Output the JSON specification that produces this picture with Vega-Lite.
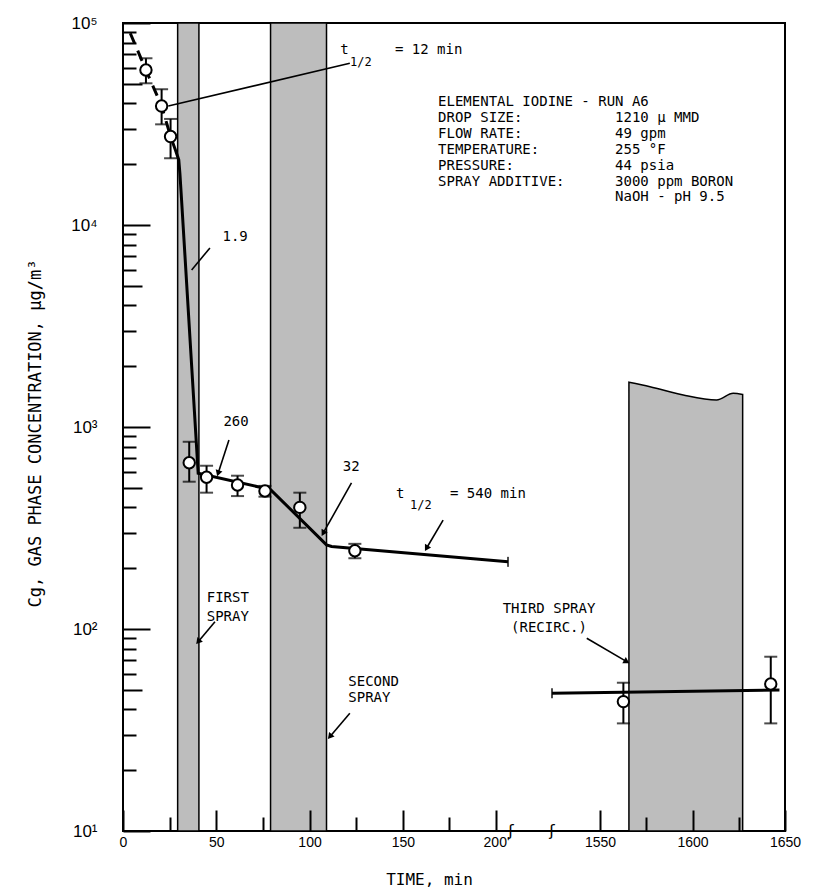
{
  "$schema": "https://vega.github.io/schema/vega-lite/v6.json",
  "width": 662,
  "height": 808,
  "autosize": {"type": "none"},
  "padding": {"left": 123, "top": 23, "right": 36, "bottom": 64},
  "background": "white",
  "config": {
    "view": {"stroke": "black", "strokeWidth": 2},
    "font": "DejaVu Sans Mono"
  },
  "datasets": {
    "obs": [
      {"t": 12.3, "c": 58500, "lo": 50300, "hi": 66900},
      {"t": 20.7, "c": 38800, "lo": 31500, "hi": 47000},
      {"t": 25.5, "c": 27400, "lo": 21400, "hi": 33500},
      {"t": 35.5, "c": 665, "lo": 536, "hi": 845},
      {"t": 44.8, "c": 564, "lo": 473, "hi": 643},
      {"t": 61.4, "c": 516, "lo": 455, "hi": 574},
      {"t": 76.1, "c": 482, "lo": 452, "hi": 511},
      {"t": 94.8, "c": 400, "lo": 317, "hi": 473},
      {"t": 124.3, "c": 244, "lo": 224, "hi": 264},
      {"t": 1562.6, "c": 43.7, "lo": 34.1, "hi": 54.2},
      {"t": 1642.3, "c": 53.4, "lo": 34.1, "hi": 72.9}
    ],
    "curves": [
      {"s": "dash", "t": 3.9, "c": 89000},
      {"s": "dash", "t": 12.3, "c": 58500},
      {"s": "dash", "t": 20.7, "c": 38800},
      {"s": "dash", "t": 25.5, "c": 27400},
      {"s": "main", "t": 25.5, "c": 27400},
      {"s": "main", "t": 28.1, "c": 23500},
      {"s": "main", "t": 29.9, "c": 21000},
      {"s": "main", "t": 30.5, "c": 18000},
      {"s": "main", "t": 31.4, "c": 13300},
      {"s": "main", "t": 40.3, "c": 590},
      {"s": "main", "t": 79.1, "c": 490},
      {"s": "main", "t": 109.1, "c": 261},
      {"s": "main", "t": 111.8, "c": 256},
      {"s": "main", "t": 206.4, "c": 215},
      {"s": "third", "t": 1524, "c": 48.1},
      {"s": "third", "t": 1647, "c": 49.9}
    ],
    "ends": [
      {"t": 206.4, "c": 215},
      {"t": 1524, "c": 48.1}
    ],
    "bands": [
      {"t": 29.3, "t2": 40.7, "c": 100000, "c2": 10},
      {"t": 79.1, "t2": 109.1, "c": 100000, "c2": 10}
    ],
    "band3": [
      {"t": 1565.6, "c": 1665},
      {"t": 1577, "c": 1584},
      {"t": 1595, "c": 1439},
      {"t": 1613, "c": 1361},
      {"t": 1622, "c": 1469},
      {"t": 1627.1, "c": 1450}
    ],
    "leaders": [
      {"id": "12", "t": 24.3, "c": 38800, "t2": 121.6, "c2": 63200},
      {"id": "1.9", "t": 46.6, "c": 7700, "t2": 36.8, "c2": 5990},
      {"id": "260", "t": 56.8, "c": 862, "t2": 51.0, "c2": 590},
      {"id": "32", "t": 122.5, "c": 529, "t2": 107.3, "c2": 298},
      {"id": "540", "t": 171.6, "c": 346, "t2": 162.7, "c2": 251},
      {"id": "first", "t": 49.3, "c": 108.7, "t2": 40.3, "c2": 86.5},
      {"id": "second", "t": 121.6, "c": 38.3, "t2": 110.9, "c2": 29.3},
      {"id": "third", "t": 1542.8, "c": 90, "t2": 1564.4, "c2": 68.9}
    ],
    "tips": [
      {"id": "260", "t": 51.0, "c": 590},
      {"id": "32", "t": 107.3, "c": 298},
      {"id": "540", "t": 162.7, "c": 251},
      {"id": "first", "t": 40.3, "c": 86.5},
      {"id": "second", "t": 110.9, "c": 29.3},
      {"id": "third", "t": 1564.4, "c": 68.9}
    ],
    "textLeft": [
      {"label": "ELEMENTAL IODINE - RUN A6", "t": 168.9, "c": 40780},
      {"label": "DROP SIZE:", "t": 168.9, "c": 33980},
      {"label": "FLOW RATE:", "t": 168.9, "c": 28220},
      {"label": "TEMPERATURE:", "t": 168.9, "c": 23510},
      {"label": "PRESSURE:", "t": 168.9, "c": 19590},
      {"label": "SPRAY ADDITIVE:", "t": 168.9, "c": 16380},
      {"label": "1210 μ MMD", "t": 1558.1, "c": 33980},
      {"label": "49 gpm", "t": 1558.1, "c": 28220},
      {"label": "255 °F", "t": 1558.1, "c": 23510},
      {"label": "44 psia", "t": 1558.1, "c": 19590},
      {"label": "3000 ppm BORON", "t": 1558.1, "c": 16380},
      {"label": "NaOH - pH 9.5", "t": 1558.1, "c": 13710},
      {"label": "FIRST", "t": 44.9, "c": 142.9},
      {"label": "SPRAY", "t": 44.9, "c": 115},
      {"label": "SECOND", "t": 120.8, "c": 54.8},
      {"label": "SPRAY", "t": 120.8, "c": 45.4},
      {"label": "t", "t": 116.4, "c": 73500},
      {"label": "= 12 min", "t": 145.8, "c": 73500},
      {"label": "t", "t": 146.4, "c": 466},
      {"label": "= 540 min", "t": 175.3, "c": 466}
    ],
    "textSub": [
      {"label": "1/2", "t": 121.7, "c": 64100},
      {"label": "1/2", "t": 153.9, "c": 411}
    ],
    "textCenter": [
      {"label": "1.9", "t": 60.1, "c": 8730},
      {"label": "260", "t": 60.6, "c": 1062},
      {"label": "32", "t": 122.3, "c": 636},
      {"label": "THIRD SPRAY", "t": 1427.7, "c": 125.3},
      {"label": "(RECIRC.)", "t": 1427.7, "c": 100.8}
    ],
    "breaks": [
      {"t": 208, "c": 10},
      {"t": 1524, "c": 10}
    ]
  },
  "encoding": {
    "x": {
      "field": "t",
      "type": "quantitative",
      "scale": {"domain": [0, 208, 1524, 1650], "range": [0, 388, 429, 662], "nice": false, "zero": false},
      "axis": {
        "values": [0, 25, 50, 75, 100, 125, 150, 175, 200, 1550, 1575, 1600, 1625, 1650],
        "tickSize": {"condition": {"test": "datum.value % 50 == 0", "value": -21}, "value": -14},
        "tickWidth": 2,
        "tickColor": "black",
        "domain": false,
        "grid": false,
        "labelExpr": "datum.value % 50 != 0 ? '' : datum.value == 200 ? \"200'\" : '' + datum.value",
        "labelFont": "Liberation Sans",
        "labelFontSize": 14,
        "labelColor": "black",
        "labelPadding": 25,
        "labelOverlap": false,
        "labelFlush": false,
        "title": "TIME, min",
        "titleFont": "DejaVu Sans Mono",
        "titleFontSize": 16,
        "titleFontWeight": "normal",
        "titleColor": "black",
        "titleX": 306,
        "titleY": 48,
        "titleAlign": "center",
        "titleBaseline": "middle",
        "zindex": 1
      }
    },
    "y": {
      "field": "c",
      "type": "quantitative",
      "scale": {"type": "log", "domain": [10, 100000], "nice": false},
      "axis": {
        "values": [10, 20, 30, 40, 50, 60, 70, 80, 90, 100, 200, 300, 400, 500, 600, 700, 800, 900, 1000, 2000, 3000, 4000, 5000, 6000, 7000, 8000, 9000, 10000, 20000, 30000, 40000, 50000, 60000, 70000, 80000, 90000, 100000],
        "tickSize": {"condition": [
          {"test": "indexof([10,100,1000,10000,100000], datum.value) >= 0", "value": -27},
          {"test": "indexof([50,500,5000,50000], datum.value) >= 0", "value": -19}
        ], "value": -13},
        "tickWidth": 2,
        "tickColor": "black",
        "domain": false,
        "grid": false,
        "labelExpr": "datum.value == 10 ? '10¹' : datum.value == 100 ? '10²' : datum.value == 1000 ? '10³' : datum.value == 10000 ? '10⁴' : datum.value == 100000 ? '10⁵' : ''",
        "labelFont": "Liberation Sans",
        "labelFontSize": 17,
        "labelColor": "black",
        "labelPadding": 53,
        "labelOverlap": false,
        "labelFlush": false,
        "title": "Cg, GAS PHASE CONCENTRATION, μg/m³",
        "titleFont": "DejaVu Sans Mono",
        "titleFontSize": 17,
        "titleFontWeight": "normal",
        "titleColor": "black",
        "titleX": -88,
        "titleY": 410,
        "titleAngle": -90,
        "titleAlign": "center",
        "titleBaseline": "middle",
        "zindex": 1
      }
    }
  },
  "layer": [
    {
      "data": {"name": "bands"},
      "mark": {"type": "rect", "fill": "#bdbdbd", "stroke": "black", "strokeWidth": 1.5},
      "encoding": {"x2": {"field": "t2"}, "y2": {"field": "c2"}}
    },
    {
      "data": {"name": "band3"},
      "mark": {"type": "area", "fill": "#bdbdbd", "stroke": "black", "strokeWidth": 1.5, "interpolate": "monotone"},
      "encoding": {"y2": {"datum": 10}}
    },
    {
      "data": {"name": "curves"},
      "transform": [{"filter": "datum.s == 'dash'"}],
      "mark": {"type": "line", "color": "black", "strokeWidth": 3, "strokeDash": [11, 8]},
      "encoding": {}
    },
    {
      "data": {"name": "curves"},
      "transform": [{"filter": "datum.s == 'main'"}],
      "mark": {"type": "line", "color": "black", "strokeWidth": 3},
      "encoding": {}
    },
    {
      "data": {"name": "curves"},
      "transform": [{"filter": "datum.s == 'third'"}],
      "mark": {"type": "line", "color": "black", "strokeWidth": 3},
      "encoding": {}
    },
    {
      "data": {"name": "ends"},
      "mark": {"type": "tick", "orient": "vertical", "color": "black", "size": 10, "thickness": 2},
      "encoding": {}
    },
    {
      "data": {"name": "leaders"},
      "mark": {"type": "rule", "color": "black", "strokeWidth": 1.6},
      "encoding": {"x2": {"field": "t2"}, "y2": {"field": "c2"}}
    },
    {
      "data": {"name": "obs"},
      "transform": [{"fold": ["lo"], "as": ["k", "c"]}],
      "mark": {"type": "rule", "color": "black", "strokeWidth": 2},
      "encoding": {"y2": {"field": "hi"}}
    },
    {
      "data": {"name": "obs"},
      "transform": [{"fold": ["lo", "hi"], "as": ["k", "c"]}],
      "mark": {"type": "tick", "orient": "horizontal", "color": "black", "size": 13, "thickness": 2},
      "encoding": {}
    },
    {
      "data": {"name": "obs"},
      "mark": {"type": "point", "shape": "circle", "filled": true, "fill": "white", "stroke": "black", "strokeWidth": 2, "size": 130, "opacity": 1},
      "encoding": {}
    },
    {
      "data": {"name": "tips"},
      "transform": [{"filter": "datum.id == '260'"}],
      "mark": {"type": "point", "shape": "triangle-up", "filled": true, "color": "black", "size": 50, "angle": -162, "opacity": 1},
      "encoding": {}
    },
    {
      "data": {"name": "tips"},
      "transform": [{"filter": "datum.id == '32'"}],
      "mark": {"type": "point", "shape": "triangle-up", "filled": true, "color": "black", "size": 50, "angle": -151, "opacity": 1},
      "encoding": {}
    },
    {
      "data": {"name": "tips"},
      "transform": [{"filter": "datum.id == '540'"}],
      "mark": {"type": "point", "shape": "triangle-up", "filled": true, "color": "black", "size": 50, "angle": -150, "opacity": 1},
      "encoding": {}
    },
    {
      "data": {"name": "tips"},
      "transform": [{"filter": "datum.id == 'first' || datum.id == 'second'"}],
      "mark": {"type": "point", "shape": "triangle-up", "filled": true, "color": "black", "size": 50, "angle": -140, "opacity": 1},
      "encoding": {}
    },
    {
      "data": {"name": "tips"},
      "transform": [{"filter": "datum.id == 'third'"}],
      "mark": {"type": "point", "shape": "triangle-up", "filled": true, "color": "black", "size": 50, "angle": 120, "opacity": 1},
      "encoding": {}
    },
    {
      "data": {"name": "textLeft"},
      "mark": {"type": "text", "align": "left", "baseline": "middle", "font": "DejaVu Sans Mono", "fontSize": 14, "color": "black"},
      "encoding": {"text": {"field": "label"}}
    },
    {
      "data": {"name": "textSub"},
      "mark": {"type": "text", "align": "left", "baseline": "middle", "font": "DejaVu Sans Mono", "fontSize": 12, "color": "black"},
      "encoding": {"text": {"field": "label"}}
    },
    {
      "data": {"name": "textCenter"},
      "mark": {"type": "text", "align": "center", "baseline": "middle", "font": "DejaVu Sans Mono", "fontSize": 14, "color": "black"},
      "encoding": {"text": {"field": "label"}}
    },
    {
      "data": {"name": "breaks"},
      "mark": {"type": "text", "align": "center", "baseline": "middle", "font": "DejaVu Sans", "fontSize": 16, "color": "black", "clip": false},
      "encoding": {"text": {"value": "ʃ"}}
    }
  ]
}
